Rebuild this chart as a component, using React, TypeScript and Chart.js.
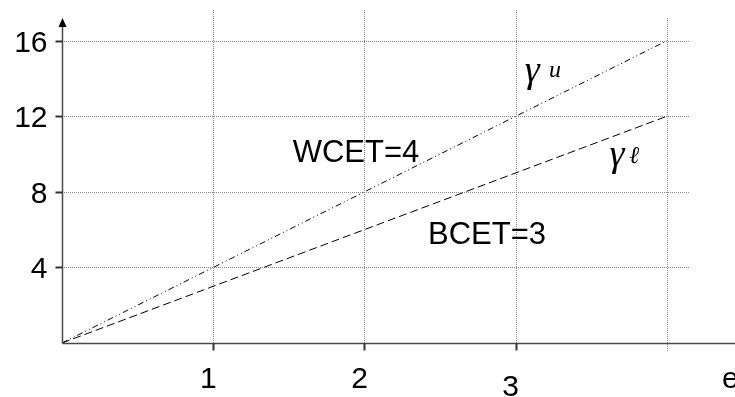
import React, { useEffect, useRef } from "react";
import { Chart, registerables } from "chart.js";

Chart.register(...registerables);

// data
const xTicks = [1, 2, 3, 4];
const xTickLabels = ["1", "2", "3", ""];
const yTicks = [4, 8, 12, 16];
const yTickLabels = ["4", "8", "12", "16"];
const wcetX = [0, 4];
const wcetY = [0, 16];
const bcetX = [0, 4];
const bcetY = [0, 12];
const X_MAX = 4.45;
const Y_MAX = 17.2;

const FONT = "'Liberation Sans', Arial, sans-serif";

const decor = {
  id: "decor",
  beforeDatasetsDraw(chart: any) {
    const { ctx, scales } = chart;
    const xs = scales.x;
    const ys = scales.y;
    const x0 = xs.getPixelForValue(0);
    const y0 = ys.getPixelForValue(0);
    ctx.save();
    ctx.lineWidth = 1;
    ctx.strokeStyle = "#8a8a8a";
    ctx.setLineDash([1, 1]);
    const gxEnd = xs.getPixelForValue(4.15);
    yTicks.forEach((v) => {
      const y = Math.round(ys.getPixelForValue(v)) + 0.5;
      ctx.beginPath();
      ctx.moveTo(x0, y);
      ctx.lineTo(gxEnd, y);
      ctx.stroke();
    });
    xTicks.forEach((v, i) => {
      const x = Math.round(xs.getPixelForValue(v)) + 0.5;
      const last = i === xTicks.length - 1;
      ctx.beginPath();
      ctx.moveTo(x, last ? chart.chartArea.top : chart.chartArea.top - 8);
      ctx.lineTo(x, last ? y0 + 8 : y0);
      ctx.stroke();
    });
    ctx.restore();
  },
  afterDraw(chart: any) {
    const { ctx, scales } = chart;
    const xs = scales.x;
    const ys = scales.y;
    const x0 = Math.round(xs.getPixelForValue(0)) + 0.5;
    const y0 = Math.round(ys.getPixelForValue(0)) + 0.5;
    const top = chart.chartArea.top;
    ctx.save();
    ctx.setLineDash([]);
    ctx.strokeStyle = "#4a4a4a";
    ctx.lineWidth = 1.5;
    ctx.beginPath();
    ctx.moveTo(x0, y0);
    ctx.lineTo(chart.width, y0);
    ctx.stroke();
    ctx.beginPath();
    ctx.moveTo(x0, y0);
    ctx.lineTo(x0, top + 6);
    ctx.stroke();
    ctx.fillStyle = "#000";
    ctx.beginPath();
    ctx.moveTo(x0, top);
    ctx.lineTo(x0 - 4, top + 9);
    ctx.lineTo(x0 + 4, top + 9);
    ctx.closePath();
    ctx.fill();
    ctx.strokeStyle = "#333";
    ctx.lineWidth = 2;
    yTicks.forEach((v) => {
      const y = Math.round(ys.getPixelForValue(v)) + 0.5;
      ctx.beginPath();
      ctx.moveTo(x0 - 7, y);
      ctx.lineTo(x0, y);
      ctx.stroke();
    });
    xTicks.slice(0, 3).forEach((v) => {
      const x = Math.round(xs.getPixelForValue(v)) + 0.5;
      ctx.beginPath();
      ctx.moveTo(x, y0);
      ctx.lineTo(x, y0 + 7);
      ctx.stroke();
    });
    // tick labels
    ctx.fillStyle = "#000";
    ctx.font = `30px ${FONT}`;
    ctx.textBaseline = "alphabetic";
    ctx.textAlign = "right";
    yTicks.forEach((v, i) => {
      ctx.fillText(yTickLabels[i], x0 - 15, ys.getPixelForValue(v) + 11);
    });
    ctx.textAlign = "center";
    xTicks.forEach((v, i) => {
      const dy = i === 2 ? 52 : 44;
      ctx.fillText(xTickLabels[i], xs.getPixelForValue(v) - 5, y0 + dy);
    });
    ctx.textAlign = "left";
    ctx.fillText("e", 722, y0 + 44);
    // annotations
    ctx.font = `31px ${FONT}`;
    ctx.fillText("WCET=4", xs.getPixelForValue(1.525), ys.getPixelForValue(9.6));
    ctx.fillText("BCET=3", xs.getPixelForValue(2.42), ys.getPixelForValue(5.25));
    ctx.font = `italic 38px 'Liberation Serif', serif`;
    ctx.fillText("γ", xs.getPixelForValue(3.06), ys.getPixelForValue(13.8));
    ctx.fillText("γ", xs.getPixelForValue(3.62), ys.getPixelForValue(9.35));
    ctx.font = `italic 24px 'Liberation Serif', serif`;
    ctx.fillText("u", xs.getPixelForValue(3.22), ys.getPixelForValue(14.1));
    ctx.fillText("ℓ", xs.getPixelForValue(3.75), ys.getPixelForValue(9.5));
    ctx.restore();
  },
};

export default function App() {
  const ref = useRef<HTMLCanvasElement | null>(null);
  useEffect(() => {
    if (!ref.current) return;
    const chart = new Chart(ref.current, {
      type: "scatter",
      data: {
        datasets: [
          {
            label: "WCET",
            data: wcetX.map((x, i) => ({ x, y: wcetY[i] })),
            showLine: true,
            borderColor: "#000",
            borderWidth: 1,
            borderDash: [6, 3, 1, 3, 1, 3],
            pointRadius: 0,
          },
          {
            label: "BCET",
            data: bcetX.map((x, i) => ({ x, y: bcetY[i] })),
            showLine: true,
            borderColor: "#000",
            borderWidth: 1,
            borderDash: [8, 4],
            pointRadius: 0,
          },
        ],
      },
      options: {
        responsive: false,
        animation: false,
        layout: { padding: { left: 62, right: 0, top: 18, bottom: 54 } },
        plugins: { legend: { display: false }, tooltip: { enabled: false } },
        scales: {
          x: { type: "linear", min: 0, max: X_MAX, display: false },
          y: { type: "linear", min: 0, max: Y_MAX, display: false },
        },
      },
      plugins: [decor],
    });
    return () => chart.destroy();
  }, []);
  return (
    <div style={{ position: "fixed", left: 0, top: 0, width: 735, height: 397, background: "#fff" }}>
      <canvas ref={ref} width={735} height={397} />
    </div>
  );
}
